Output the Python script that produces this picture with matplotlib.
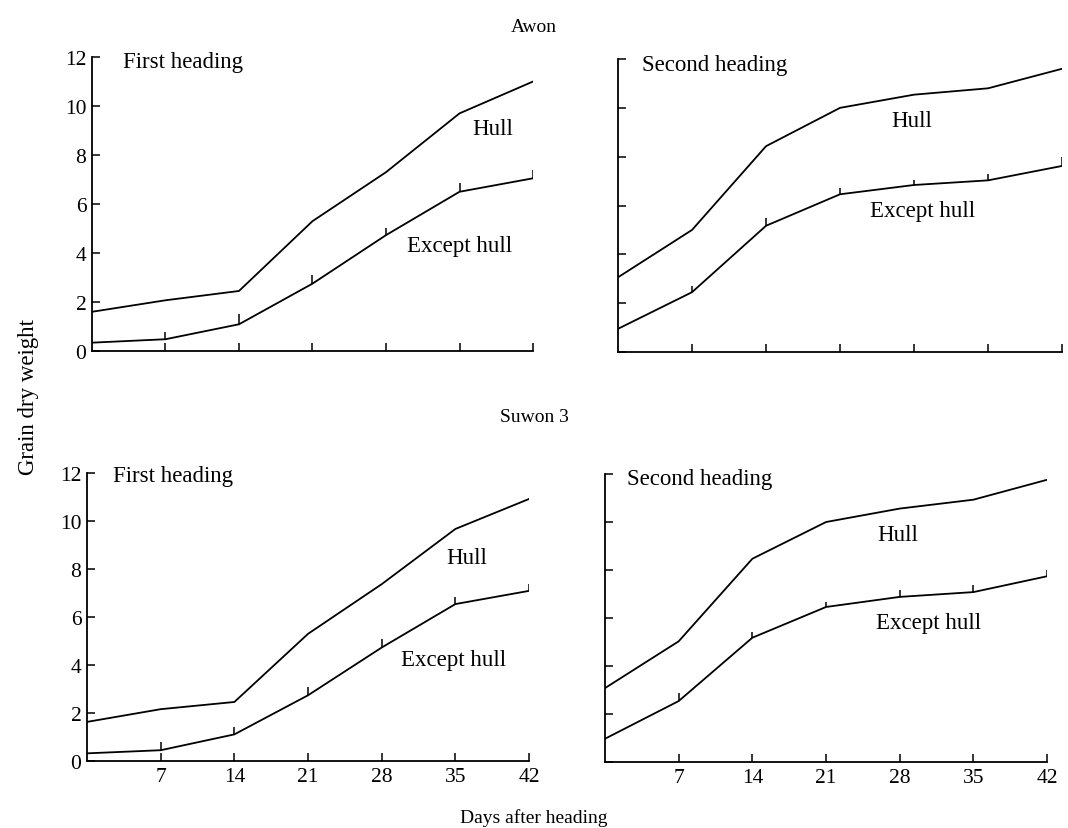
import numpy as np
import matplotlib
matplotlib.use('Agg')
from matplotlib import pyplot as plt

plt.rcParams['font.family'] = ['Liberation Serif', 'DejaVu Serif']

days = [0, 7, 14, 21, 28, 35, 42]
day_ticks = [7, 14, 21, 28, 35, 42]
y_ticks = [0, 2, 4, 6, 8, 10, 12]

# Awon
awon_first_hull = [1.6, 2.07, 2.45, 5.3, 7.3, 9.7, 11.0]
awon_first_except = [0.34, 0.48, 1.09, 2.75, 4.73, 6.5, 7.05]
awon_first_err = [0, 0.3, 0.4, 0.35, 0.3, 0.35, 0.35]
awon_second_hull = [3.06, 5.0, 8.43, 10.0, 10.54, 10.8, 11.6]
awon_second_except = [0.95, 2.45, 5.17, 6.46, 6.84, 7.03, 7.62]
awon_second_err = [0, 0.25, 0.3, 0.25, 0.2, 0.25, 0.35]

# Suwon 3
suwon_first_hull = [1.63, 2.16, 2.46, 5.3, 7.37, 9.67, 10.92]
suwon_first_except = [0.32, 0.45, 1.11, 2.74, 4.73, 6.54, 7.09]
suwon_first_err = [0, 0.35, 0.3, 0.35, 0.35, 0.3, 0.3]
suwon_second_hull = [3.08, 5.03, 8.47, 10.0, 10.56, 10.93, 11.76]
suwon_second_except = [0.97, 2.54, 5.18, 6.46, 6.88, 7.08, 7.74]
suwon_second_err = [0, 0.35, 0.25, 0.2, 0.3, 0.3, 0.25]

fig = plt.figure(figsize=(10.68, 8.29), dpi=100)

panels = [
    # rect, hull, except, err, name, name pos, hull label pos, except label pos, x labels, y labels
    ([0.0861, 0.5754, 0.413, 0.3546], awon_first_hull, awon_first_except, awon_first_err,
     'First heading', (2.95, 11.8), (38.2, 9.1), (35.0, 4.3), False, True),
    ([0.5787, 0.5742, 0.4157, 0.3534], awon_second_hull, awon_second_except, awon_second_err,
     'Second heading', (2.24, 11.76), (27.8, 9.47), (28.8, 5.78), False, False),
    ([0.0815, 0.0808, 0.4139, 0.3474], suwon_first_hull, suwon_first_except, suwon_first_err,
     'First heading', (2.44, 11.9), (36.1, 8.5), (34.8, 4.25), True, True),
    ([0.5665, 0.0796, 0.4139, 0.3474], suwon_second_hull, suwon_second_except, suwon_second_err,
     'Second heading', (2.06, 11.8), (27.8, 9.5), (30.7, 5.83), True, False),
]

for rect, hull, exc, err, name, npos, hpos, epos, xlab, ylab in panels:
    ax = fig.add_axes(rect)
    ax.plot(days, hull, color='black', lw=1.3)
    ax.errorbar(days, exc, yerr=[np.zeros(len(err)), err], color='black', lw=1.3,
                elinewidth=1.1, capsize=0)
    ax.set_xlim(0, 42)
    ax.set_ylim(0, 12)
    for s in ['top', 'right']:
        ax.spines[s].set_visible(False)
    ax.spines['left'].set_linewidth(1.3)
    ax.spines['bottom'].set_linewidth(1.3)
    ax.set_xticks(day_ticks)
    ax.set_yticks(y_ticks)
    ax.tick_params(direction='in', length=6, width=1.1, labelsize=15.5, pad=4)
    if not xlab:
        ax.set_xticklabels([])
    if not ylab:
        ax.set_yticklabels([])
    ax.text(npos[0], npos[1], name, fontsize=16.5, ha='left', va='center')
    ax.text(hpos[0], hpos[1], 'Hull', fontsize=16.5, ha='center', va='center')
    ax.text(epos[0], epos[1], 'Except hull', fontsize=16.5, ha='center', va='center')

fig.text(534 / 1068, 1 - 28 / 829, 'Awon', fontsize=14, ha='center', va='center')
fig.text(534 / 1068, 1 - 418 / 829, 'Suwon 3', fontsize=14, ha='center', va='center')
fig.text(29 / 1068, 1 - 397 / 829, 'Grain dry weight', fontsize=16.5, ha='center',
         va='center', rotation=90)
fig.text(534 / 1068, 1 - 818 / 829, 'Days after heading', fontsize=14, ha='center',
         va='center')

fig.savefig('out.png', dpi=100)
